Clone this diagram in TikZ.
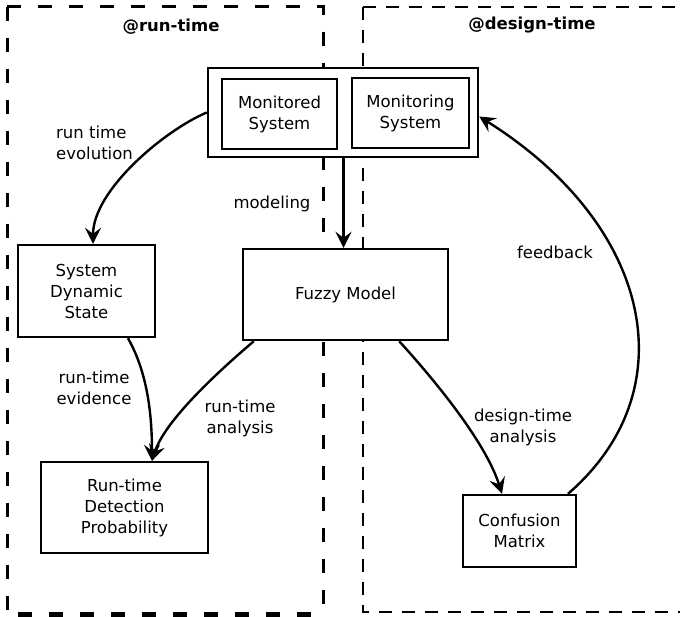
\documentclass[tikz,border=0pt]{standalone}
\usepackage{fontspec}
\setmainfont{DejaVu Sans}
\usetikzlibrary{arrows.meta,calc}
\begin{document}
\begin{tikzpicture}[x=1pt,y=-1pt,
  font=\fontsize{16.5}{21}\selectfont,
  box/.style={draw,line width=2.4pt,fill=white,align=center,inner sep=0pt},
  conn/.style={line width=2.4pt,-{Stealth[length=16pt,width=16pt,inset=6pt]}},
  lbl/.style={align=center,inner sep=0pt},
  runframe/.style={line width=3pt,dash pattern=on 14pt off 17pt},
  designframe/.style={line width=2.8pt,dash pattern=on 13pt off 10pt},
  frametitle/.style={font=\fontsize{16.5}{21}\selectfont\bfseries}
]
\useasboundingbox (0,0) rectangle (680,617);
\clip (0,0) rectangle (680,617);

% run-time frame
\draw[runframe] (7,7) -- (7,614);
\draw[runframe] (7,7) -- (323,7) -- (323,614);
\draw[runframe,line width=5pt] (18,614) -- (323,614);

% design-time frame
\draw[designframe] (363,7) -- (363,612) -- (700,612);
\draw[designframe] (363,7) -- (700,7);

\node[frametitle] (rtitle) at (171,27) {@run-time};
\node[frametitle] (dtitle) at (532,25) {@design-time};

% blocks
\node[box,minimum width=270pt,minimum height=89pt] (outer) at (343,112.5) {};
\node[box,minimum width=115pt,minimum height=70pt] (monitored) at (279.5,114) {Monitored\\System};
\node[box,minimum width=117pt,minimum height=70pt] (monitoring) at (410.5,113) {Monitoring\\System};
\node[box,minimum width=137pt,minimum height=92pt] (sds) at (86.5,291) {System\\Dynamic\\State};
\node[box,minimum width=205pt,minimum height=91pt] (fuzzy) at (345.5,294.5) {Fuzzy Model};
\node[box,minimum width=167pt,minimum height=91pt] (rdp) at (124.5,507.5) {Run-time\\Detection\\Probability};
\node[box,minimum width=113pt,minimum height=72pt] (confusion) at (519.5,531) {Confusion\\Matrix};

% connectors
\draw[conn] (outer.west) .. controls (165,130) and (93,190) .. ([xshift=6.5pt]sds.north);
\draw[conn] ([xshift=-2pt]fuzzy.north |- outer.south) -- ([xshift=-2pt]fuzzy.north);
\draw[conn] ([xshift=41.5pt]sds.south) .. controls (143,365) and (152,400) .. ([xshift=27.5pt]rdp.north);
\draw[conn] ([xshift=12pt]fuzzy.south west) .. controls (220,370) and (165,420) .. ([xshift=27.5pt]rdp.north);
\draw[conn] ([xshift=-50pt]fuzzy.south east) .. controls (430,375) and (485,440) .. ([xshift=-17.5pt]confusion.north);
\draw[conn] ([xshift=48.5pt]confusion.north) .. controls (688,390) and (652,225) .. ([yshift=-4pt]outer.east);

% connector labels
\node[lbl,align=left,anchor=west] (lblevol) at (56,143) {run time\\evolution};
\node[lbl] (lblmodel) at (272,204) {modeling};
\node[lbl] (lblfeed) at (555,252) {feedback};
\node[lbl] (lblevid) at (94,388) {run-time\\evidence};
\node[lbl] (lblrta) at (240,418) {run-time\\analysis};
\node[lbl] (lbldta) at (523,427) {design-time\\analysis};
\end{tikzpicture}
\end{document}
